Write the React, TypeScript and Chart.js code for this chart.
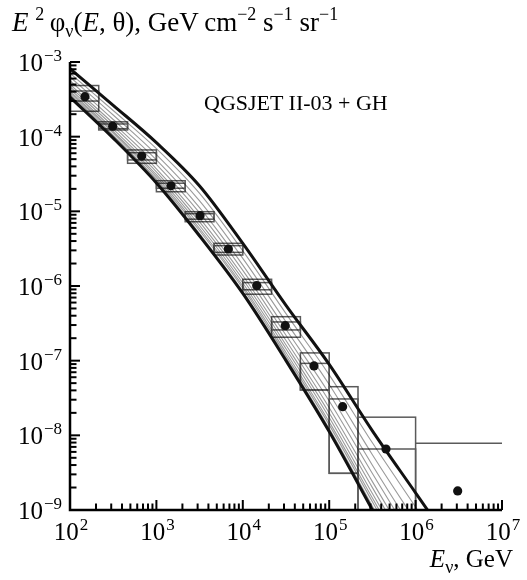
import React, { useEffect, useRef } from "react";
import { Chart, registerables } from "chart.js";
Chart.register(...registerables);

// ---- model curves: log10(E/GeV) nodes and log10 of E^2 flux ----
const curveLogE = [2, 2.5, 3, 3.5, 4, 4.5, 5, 5.5, 6, 6.3];
const upperLogFlux = [-3.09, -3.58, -4.08, -4.66, -5.43, -6.26, -7.05, -7.94, -8.77, -9.27];
const lowerLogFlux = [-3.47, -4.02, -4.62, -5.33, -6.1, -7.0, -7.95, -9.0, -10.05, -10.65];
const thin1 = [-3.15, -3.65, -4.16, -4.76, -5.53, -6.37, -7.19, -8.1, -8.96, -9.48];
const thin2 = [-3.2, -3.71, -4.24, -4.86, -5.63, -6.48, -7.32, -8.26, -9.15, -9.68];
const thin3 = [-3.25, -3.77, -4.31, -4.95, -5.72, -6.58, -7.44, -8.4, -9.32, -9.86];
const thin4 = [-3.3, -3.82, -4.37, -5.02, -5.79, -6.66, -7.54, -8.51, -9.46, -10.02];
const thin5 = [-3.33, -3.86, -4.43, -5.09, -5.86, -6.73, -7.63, -8.62, -9.59, -10.15];
const thin6 = [-3.36, -3.9, -4.47, -5.14, -5.91, -6.79, -7.7, -8.7, -9.69, -10.26];
const thin7 = [-3.39, -3.93, -4.51, -5.19, -5.96, -6.84, -7.76, -8.78, -9.78, -10.36];
const thin8 = [-3.41, -3.95, -4.54, -5.23, -6.0, -6.89, -7.82, -8.84, -9.86, -10.44];
const thin9 = [-3.43, -3.98, -4.57, -5.26, -6.03, -6.93, -7.86, -8.89, -9.92, -10.51];
const thin10 = [-3.45, -4.0, -4.59, -5.3, -6.07, -6.96, -7.91, -8.95, -9.99, -10.58];
const thinCurves = [thin1, thin2, thin3, thin4, thin5, thin6, thin7, thin8, thin9, thin10];

// ---- measured points ----
const pointE = [149, 312, 676, 1476, 3200, 6800, 14500, 31000, 66700, 143000, 454000, 3.07e6];
const pointFlux = [3.43e-4, 1.38e-4, 5.5e-5, 2.2e-5, 8.75e-6, 3.13e-6, 1.01e-6, 2.94e-7, 8.5e-8, 2.42e-8, 6.56e-9, 1.8e-9];

// ---- error boxes (energy bins) ----
const binLowE = [100, 215, 464, 1000, 2154, 4642, 10000, 21544, 46416, 100000, 215443];
const binHighE = [215, 464, 1000, 2154, 4642, 10000, 21544, 46416, 100000, 215443, 1000000];
const outerTop = [4.84e-4, 1.58e-4, 6.64e-5, 2.57e-5, 9.89e-6, 3.73e-6, 1.23e-6, 3.88e-7, 1.27e-7, 4.48e-8, 1.75e-8];
const outerBottom = [2.19e-4, 1.23e-4, 4.4e-5, 1.83e-5, 7.26e-6, 2.6e-6, 7.76e-7, 2.06e-7, 4.05e-8, 3.1e-9, 1e-10];
const innerTop = [4.09e-4, 1.48e-4, 6.1e-5, 2.38e-5, 9.29e-6, 3.47e-6, 1.11e-6, 3.3e-7, 9.2e-8, 3.07e-8, 6.56e-9];
const innerBottom = [3.0e-4, 1.28e-4, 4.88e-5, 2.04e-5, 7.85e-6, 2.82e-6, 8.9e-7, 2.58e-7, 4.05e-8, 3.1e-9, 1e-10];
const limitLowE = [1e6];
const limitHighE = [1e7];
const limitFlux = [7.82e-9];

// ---- axes ----
const xTickExponents = [2, 3, 4, 5, 6, 7];
const yTickExponents = [-3, -4, -5, -6, -7, -8, -9];

const FONT = '"Liberation Serif", "Times New Roman", serif';

const toPts = (vals: number[]) => curveLogE.map((e, i) => ({ x: Math.pow(10, e), y: Math.pow(10, vals[i]) }));

function drawPow(ctx: CanvasRenderingContext2D, exp: number, x: number, baseline: number, align: "right" | "center") {
  const base = "10";
  const sup = exp < 0 ? "\u2212" + -exp : String(exp);
  ctx.font = `25px ${FONT}`;
  const wb = ctx.measureText(base).width;
  ctx.font = `17px ${FONT}`;
  const ws = ctx.measureText(sup).width;
  const total = wb + 1 + ws;
  const left = align === "right" ? x - total : x - total / 2;
  ctx.textAlign = "left";
  ctx.textBaseline = "alphabetic";
  ctx.font = `25px ${FONT}`;
  ctx.fillText(base, left, baseline);
  ctx.font = `17px ${FONT}`;
  ctx.fillText(sup, left + wb + 1, baseline - 10);
}

const framePlugin = {
  id: "frame",
  beforeDatasetsDraw(chart: any) {
    const { ctx, chartArea: a, scales } = chart;
    const x = scales.x, y = scales.y;
    ctx.save();
    ctx.beginPath();
    ctx.rect(a.left, a.top, a.right - a.left, a.bottom - a.top);
    ctx.clip();
    ctx.strokeStyle = "#5a5a5a";
    ctx.lineWidth = 1.5;
    for (let i = 0; i < binLowE.length; i++) {
      const x0 = x.getPixelForValue(binLowE[i]);
      const x1 = x.getPixelForValue(binHighE[i]);
      const pairs = [[outerTop[i], outerBottom[i]], [innerTop[i], innerBottom[i]]];
      for (const [t, b] of pairs) {
        const y0 = y.getPixelForValue(t);
        const y1 = y.getPixelForValue(b);
        ctx.strokeRect(x0, y0, x1 - x0, y1 - y0);
      }
    }
    for (let i = 0; i < limitLowE.length; i++) {
      const yy = y.getPixelForValue(limitFlux[i]);
      ctx.beginPath();
      ctx.moveTo(x.getPixelForValue(limitLowE[i]), yy);
      ctx.lineTo(x.getPixelForValue(limitHighE[i]), yy);
      ctx.stroke();
    }
    ctx.restore();
  },
  afterDatasetsDraw(chart: any) {
    const { ctx, chartArea: a, scales } = chart;
    const x = scales.x, y = scales.y;
    ctx.save();
    ctx.strokeStyle = "#000";
    ctx.fillStyle = "#000";
    ctx.lineWidth = 2.5;
    ctx.beginPath();
    ctx.moveTo(a.left, a.top);
    ctx.lineTo(a.left, a.bottom);
    ctx.lineTo(a.right, a.bottom);
    ctx.stroke();
    ctx.lineWidth = 2;
    for (let d = 2; d <= 7; d++) {
      for (let m = 1; m <= 9; m++) {
        if (d === 7 && m > 1) break;
        const px = x.getPixelForValue(m * Math.pow(10, d));
        const len = m === 1 ? 10 : 6.5;
        ctx.beginPath();
        ctx.moveTo(px, a.bottom);
        ctx.lineTo(px, a.bottom - len);
        ctx.stroke();
      }
    }
    for (let d = -9; d <= -3; d++) {
      for (let m = 1; m <= 9; m++) {
        if (d === -3 && m > 1) break;
        const py = y.getPixelForValue(m * Math.pow(10, d));
        const len = m === 1 ? 10 : 6.5;
        ctx.beginPath();
        ctx.moveTo(a.left, py);
        ctx.lineTo(a.left + len, py);
        ctx.stroke();
      }
    }
    for (const e of xTickExponents) {
      drawPow(ctx, e, x.getPixelForValue(Math.pow(10, e)) + 1, a.bottom + 30, "center");
    }
    for (const e of yTickExponents) {
      drawPow(ctx, e, a.left - 8, y.getPixelForValue(Math.pow(10, e)) + 9, "right");
    }
    ctx.restore();
  },
};

export default function App() {
  const ref = useRef<HTMLCanvasElement | null>(null);
  useEffect(() => {
    if (!ref.current) return;
    const datasets: any[] = [
      {
        label: "data",
        data: pointE.map((e, i) => ({ x: e, y: pointFlux[i] })),
        showLine: false,
        pointRadius: 4.6,
        pointBackgroundColor: "#111",
        pointBorderWidth: 0,
        order: 0,
      },
      {
        label: "upper",
        data: toPts(upperLogFlux),
        borderColor: "#111",
        borderWidth: 3,
        pointRadius: 0,
        cubicInterpolationMode: "monotone",
        order: 1,
      },
      {
        label: "lower",
        data: toPts(lowerLogFlux),
        borderColor: "#111",
        borderWidth: 3,
        pointRadius: 0,
        cubicInterpolationMode: "monotone",
        order: 1,
      },
      ...thinCurves.map((c, i) => ({
        label: "thin" + (i + 1),
        data: toPts(c),
        borderColor: "rgba(0,0,0,0.4)",
        borderWidth: 1.1,
        pointRadius: 0,
        cubicInterpolationMode: "monotone",
        order: 2,
      })),
    ];
    const chart = new Chart(ref.current, {
      type: "line",
      data: { datasets },
      options: {
        animation: false,
        responsive: false,
        devicePixelRatio: 1,
        layout: { padding: { left: 70, top: 62, right: 25, bottom: 70 } },
        scales: {
          x: { type: "logarithmic", min: 100, max: 1e7, display: false },
          y: { type: "logarithmic", min: 1e-9, max: 1e-3, display: false },
        },
        plugins: { legend: { display: false }, tooltip: { enabled: false } },
      },
      plugins: [framePlugin],
    } as any);
    return () => chart.destroy();
  }, []);

  const txt: React.CSSProperties = {
    position: "absolute",
    fontFamily: FONT,
    whiteSpace: "nowrap",
    color: "#000",
  };
  const sup = (s: string, size = 18): React.ReactNode => (
    <span style={{ fontSize: size, position: "relative", top: -11 }}>{s}</span>
  );
  const sub = (s: string, size = 18): React.ReactNode => (
    <span style={{ fontSize: size, position: "relative", top: 6 }}>{s}</span>
  );

  return (
    <div style={{ position: "fixed", left: 0, top: 0, width: 527, height: 580, background: "#fff", overflow: "hidden" }}>
      <canvas ref={ref} width={527} height={580} style={{ position: "absolute", left: 0, top: 0, width: 527, height: 580 }} />
      <div style={{ ...txt, left: 12, top: 9, fontSize: 27, lineHeight: "27px" }}>
        <i>E</i>&nbsp;{sup("2")}&thinsp;φ{sub("ν")}(<i>E</i>, θ), GeV&thinsp;cm{sup("\u22122")} s{sup("\u22121")} sr{sup("\u22121")}
      </div>
      <div style={{ ...txt, left: 204, top: 92, fontSize: 22, lineHeight: "22px" }}>QGSJET II-03 + GH</div>
      <div style={{ ...txt, right: 14, top: 546, fontSize: 25, lineHeight: "25px" }}>
        <i>E</i>{sub("ν")}, GeV
      </div>
    </div>
  );
}
